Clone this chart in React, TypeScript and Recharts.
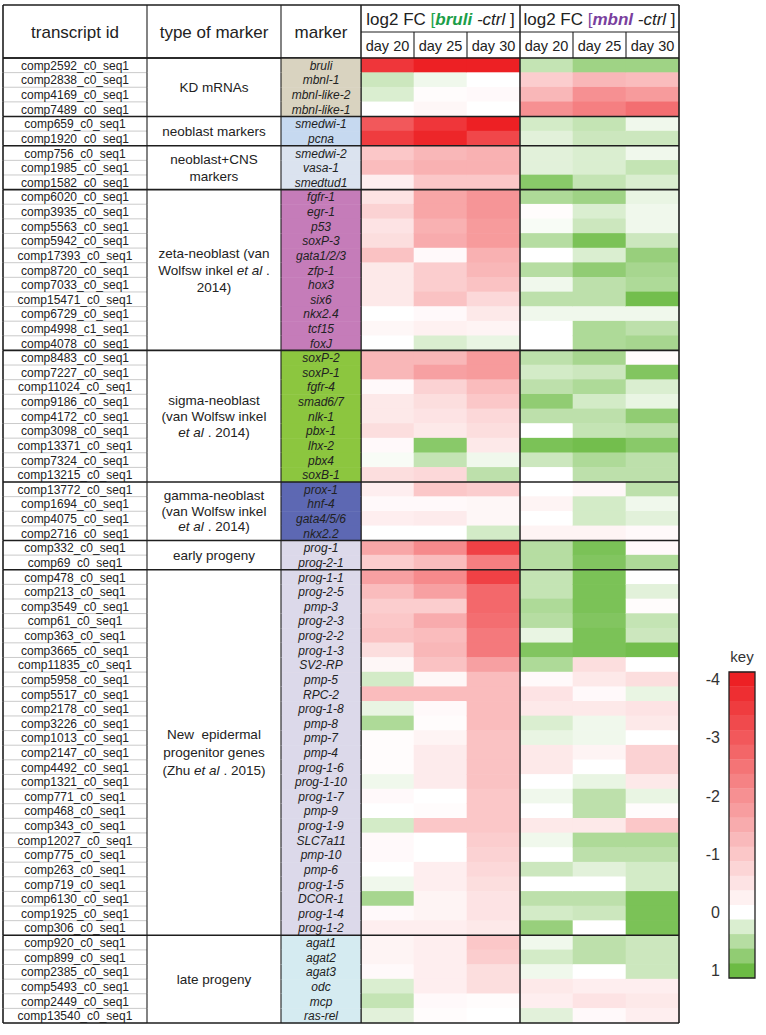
import React from 'react';
import { ScatterChart, Scatter, XAxis, YAxis, ReferenceLine, ReferenceArea } from 'recharts';

const transcriptIds = [
  'comp2592_c0_seq1', 'comp2838_c0_seq1', 'comp4169_c0_seq1', 'comp7489_c0_seq1',
  'comp659_c0_seq1', 'comp1920_c0_seq1',
  'comp756_c0_seq1', 'comp1985_c0_seq1', 'comp1582_c0_seq1',
  'comp6020_c0_seq1', 'comp3935_c0_seq1', 'comp5563_c0_seq1', 'comp5942_c0_seq1', 'comp17393_c0_seq1',
  'comp8720_c0_seq1', 'comp7033_c0_seq1', 'comp15471_c0_seq1', 'comp6729_c0_seq1', 'comp4998_c1_seq1',
  'comp4078_c0_seq1',
  'comp8483_c0_seq1', 'comp7227_c0_seq1', 'comp11024_c0_seq1', 'comp9186_c0_seq1', 'comp4172_c0_seq1',
  'comp3098_c0_seq1', 'comp13371_c0_seq1', 'comp7324_c0_seq1', 'comp13215_c0_seq1',
  'comp13772_c0_seq1', 'comp1694_c0_seq1', 'comp4075_c0_seq1', 'comp2716_c0_seq1',
  'comp332_c0_seq1', 'comp69_c0_seq1',
  'comp478_c0_seq1', 'comp213_c0_seq1', 'comp3549_c0_seq1', 'comp61_c0_seq1', 'comp363_c0_seq1',
  'comp3665_c0_seq1', 'comp11835_c0_seq1', 'comp5958_c0_seq1', 'comp5517_c0_seq1', 'comp2178_c0_seq1',
  'comp3226_c0_seq1', 'comp1013_c0_seq1', 'comp2147_c0_seq1', 'comp4492_c0_seq1', 'comp1321_c0_seq1',
  'comp771_c0_seq1', 'comp468_c0_seq1', 'comp343_c0_seq1', 'comp12027_c0_seq1', 'comp775_c0_seq1',
  'comp263_c0_seq1', 'comp719_c0_seq1', 'comp6130_c0_seq1', 'comp1925_c0_seq1', 'comp306_c0_seq1',
  'comp920_c0_seq1', 'comp899_c0_seq1', 'comp2385_c0_seq1', 'comp5493_c0_seq1', 'comp2449_c0_seq1',
  'comp13540_c0_seq1',
];

const markerNames = [
  'bruli', 'mbnl-1', 'mbnl-like-2', 'mbnl-like-1',
  'smedwi-1', 'pcna',
  'smedwi-2', 'vasa-1', 'smedtud1',
  'fgfr-1', 'egr-1', 'p53', 'soxP-3', 'gata1/2/3', 'zfp-1', 'hox3', 'six6', 'nkx2.4', 'tcf15', 'foxJ',
  'soxP-2', 'soxP-1', 'fgfr-4', 'smad6/7', 'nlk-1', 'pbx-1', 'lhx-2', 'pbx4', 'soxB-1',
  'prox-1', 'hnf-4', 'gata4/5/6', 'nkx2.2',
  'prog-1', 'prog-2-1',
  'prog-1-1', 'prog-2-5', 'pmp-3', 'prog-2-3', 'prog-2-2', 'prog-1-3', 'SV2-RP', 'pmp-5', 'RPC-2',
  'prog-1-8', 'pmp-8', 'pmp-7', 'pmp-4', 'prog-1-6', 'prog-1-10', 'prog-1-7', 'pmp-9', 'prog-1-9',
  'SLC7a11', 'pmp-10', 'pmp-6', 'prog-1-5', 'DCOR-1', 'prog-1-4', 'prog-1-2',
  'agat1', 'agat2', 'agat3', 'odc', 'mcp', 'ras-rel',
];

const groupSizes = [4, 2, 3, 11, 9, 4, 2, 25, 6];
const groupLabels = [
  ['KD mRNAs'],
  ['neoblast markers'],
  ['neoblast+CNS', 'markers'],
  ['zeta-neoblast (van', 'Wolfsw inkel *et al* .', '2014)'],
  ['sigma-neoblast', '(van Wolfsw inkel', '*et al* . 2014)'],
  ['gamma-neoblast', '(van Wolfsw inkel', '*et al* . 2014)'],
  ['early progeny'],
  ['New  epidermal', 'progenitor genes', '(Zhu *et al* . 2015)'],
  ['late progeny'],
];
const groupColors = ['#d9d3c0', '#c6d9f0', '#dbe3ef', '#c57cb9', '#8cc63f', '#5d68b3', '#dcd9ea', '#dcd9ea', '#d5ebf1'];
const groupLineGap = [17, 17, 17, 17, 16, 15.5, 17, 18, 17];

const dayLabels = ['day 20', 'day 25', 'day 30', 'day 20', 'day 25', 'day 30'];

const bruliDay20 = [-3.6, 0.35, 0.25, 0, -3.0, -3.5, -1.0, -1.2, -0.3, -0.5,
  -0.8, -0.5, -0.6, -1.1, -0.4, -0.4, -0.4, 0, -0.15, 0,
  -1.3, -1.3, -0.1, -0.4, -0.4, -0.6, -0.1, 0.05, -0.6, -0.3,
  -0.1, -0.3, 0, -1.6, -0.9, -1.7, -1.2, -0.9, -1.0, -1.1,
  -0.6, -0.15, 0.3, -1.2, 0.15, 0.55, -0.05, -0.05, -0.05, 0.1,
  -0.1, 0, 0.3, -0.1, -0.1, 0, 0.1, 0.6, -0.1, -0.3,
  -0.2, -0.2, -0.1, 0.25, 0.4, 0.2];
const bruliDay25 = [-4.0, 0.1, -0.05, -0.15, -3.6, -3.9, -1.3, -1.4, -1.0, -1.6,
  -1.6, -1.4, -1.5, -0.1, -0.9, -0.9, -1.1, -0.1, -0.25, 0.25,
  -1.3, -1.7, -0.8, -0.6, -0.5, -0.4, 0.8, 0.4, -0.7, -1.0,
  -0.1, -0.35, 0, -2.1, -1.2, -2.1, -1.7, -0.9, -1.5, -1.2,
  -1.3, -1.1, -0.15, -1.2, -0.1, -0.05, -0.2, -0.35, -0.35, -0.35,
  0, -0.05, -1.0, 0, 0, -0.3, -0.3, -0.2, -0.2, -0.3,
  -0.3, -0.3, -0.3, -0.3, -0.1, -0.05];
const bruliDay30 = [-4.0, 0, -0.1, 0, -4.0, -3.3, -1.4, -1.4, -1.0, -1.9,
  -1.9, -1.8, -1.8, -1.4, -1.3, -1.1, -0.7, -0.4, -0.2, 0.15,
  -1.8, -1.8, -1.2, -1.0, -0.7, -0.6, -0.4, 0.1, 0.45, -0.9,
  -0.15, -0.15, 0.3, -3.4, -2.3, -3.4, -2.7, -2.7, -2.6, -2.4,
  -2.4, -1.7, -1.2, -1.2, -1.2, -1.2, -1.1, -1.1, -1.1, -1.1,
  -1.0, -1.0, -1.0, -0.9, -0.8, -0.7, -0.6, -0.5, -0.5, -0.4,
  -1.0, -0.9, -0.6, -0.6, -0.05, 0];
const mbnlDay20 = [0.4, -0.9, -1.3, -2.0, 0.3, 0.2, 0.2, 0.2, 0.8, 0.55,
  -0.05, 0.05, 0.5, 0, 0.5, 0.1, 0.45, 0.1, 0, 0,
  0.45, 0.3, 0.45, 0.75, 0.45, 0, 0.9, 0.35, 0, 0,
  -0.2, 0, -0.2, 0.5, 0.5, 0.4, 0.4, 0.55, 0.5, 0.15,
  0.85, 0.55, -0.1, -0.5, -0.4, 0.25, 0.15, -0.4, -0.4, 0,
  0.1, 0, -0.4, 0.1, 0, 0.35, 0, 0.45, 0.3, 0.7,
  0.1, 0.3, 0.1, -0.4, -0.3, 0.2];
const mbnlDay25 = [0.65, -1.3, -2.0, -2.3, 0.4, 0.35, 0.25, 0.25, 0.4, 0.65,
  0.25, 0.35, 0.9, 0.25, 0.75, 0.45, 0.45, 0.1, 0.55, 0.55,
  0.6, 0.35, 0.55, 0.3, 0.45, 0.4, 0.95, 0.55, 0.45, -0.15,
  0.3, 0.3, -0.2, 0.9, 0.85, 0.9, 0.9, 0.9, 0.85, 0.9,
  0.9, -0.6, -0.4, -0.1, -0.4, 0.1, 0.1, -0.2, 0, 0.15,
  0.45, 0.45, -0.4, 0.55, 0.45, 0.2, 0, 0.45, 0.35, 0,
  0.45, 0.45, 0, -0.3, -0.5, -0.1];
const mbnlDay30 = [0.65, -1.2, -1.8, -2.6, 0.1, 0.35, 0.1, 0.4, 0.25, 0.15,
  0.1, 0.1, 0.35, 0.7, 0.6, 0.55, 0.95, 0.1, 0.45, 0.6,
  -0.05, 0.85, 0.25, 0.15, 0.75, 0.45, 0.8, 0.45, 0.45, 0.45,
  0.1, 0.2, -0.1, -0.1, 0.55, 0, 0.2, -0.05, 0.4, 0.35,
  0.95, 0, -0.6, 0.15, -0.5, -0.4, 0, -0.8, -0.8, -0.4,
  0.15, -0.05, -1.0, 0.55, 0.45, 0.3, 0.3, 0.9, 0.9, 0.9,
  0.35, 0.35, 0.35, -0.3, -0.4, -0.3];

const keySteps = [-4, -3.75, -3.5, -3.25, -3, -2.75, -2.5, -2.25, -2, -1.75, -1.5, -1.25, -1, -0.75, -0.5, -0.25, 0, 0.25, 0.5, 0.75, 1];
const keyTicks = [-4, -3, -2, -1, 0, 1];

// ---------- layout / style ----------
const FONT = '"Liberation Sans", Arial, Helvetica, sans-serif';
const X_LEFT = 3, X_TYPE = 147, X_MARK = 281, X_HEAT = 361, X_RIGHT = 679;
const Y_TOP = 5, Y_MID = 32, Y_HEAD = 58, Y_BOTTOM = 1023;
const CW = (X_RIGHT - X_HEAT) / dayLabels.length;
const CH = (Y_BOTTOM - Y_HEAD) / transcriptIds.length;
const LINE = '#1e1e1e';
const KEY_W = 26;
const KEY_H = 306 / keySteps.length;

function heat(v: number): string {
  let r, g, b;
  if (v < 0) {
    const t = Math.min(1, -v / 4);
    r = 255 + (237 - 255) * t; g = 255 + (32 - 255) * t; b = 255 + (36 - 255) * t;
  } else {
    const t = Math.min(1, v);
    r = 255 + (108 - 255) * t; g = 255 + (187 - 255) * t; b = 255 + (68 - 255) * t;
  }
  return `rgb(${Math.round(r)},${Math.round(g)},${Math.round(b)})`;
}

const heatColumns = [bruliDay20, bruliDay25, bruliDay30, mbnlDay20, mbnlDay25, mbnlDay30];
const cells = heatColumns.flatMap((col, c) => col.map((v, r) => ({ x: c + 0.5, y: r + 0.5, v })));
const keyData = keySteps.map((v) => ({ x: 0.5, y: v, v }));
const rowTicks = transcriptIds.map((_, r) => r + 0.5);
const colTicks = dayLabels.map((_, c) => c + 0.5);
const groupStarts: number[] = [];
groupSizes.forEach((n, i) => groupStarts.push(i === 0 ? 0 : groupStarts[i - 1] + groupSizes[i - 1]));
const rowGroup = transcriptIds.map((_, r) => {
  let g = 0;
  while (g + 1 < groupStarts.length && groupStarts[g + 1] <= r) g++;
  return g;
});
const boundaries = groupStarts.slice(1);

function rich(line: string) {
  return line.split('*').map((s, i) => (
    <tspan key={i} fontStyle={i % 2 ? 'italic' : 'normal'}>{s}</tspan>
  ));
}

function HeatCell(props: any) {
  const { cx, cy, payload } = props;
  if (cx == null || cy == null) return null;
  return <rect x={cx - CW / 2 - 0.3} y={cy - CH / 2 - 0.3} width={CW + 0.6} height={CH + 0.6} fill={heat(payload.v)} />;
}

function KeyCell(props: any) {
  const { cx, cy, payload } = props;
  if (cx == null || cy == null) return null;
  return <rect x={cx - KEY_W / 2} y={cy - KEY_H / 2 - 0.2} width={KEY_W} height={KEY_H + 0.4} fill={heat(payload.v)} />;
}

function RowTick(props: any) {
  const { y, payload } = props;
  const r = Math.floor(payload.value);
  const g = rowGroup[r];
  const top = y - CH / 2;
  const bot = y + CH / 2;
  const first = groupStarts[g] === r;
  const lines = groupLabels[g];
  const gap = groupLineGap[g];
  const gCenter = top + (groupSizes[g] * CH) / 2;
  return (
    <g>
      <rect x={X_MARK} y={top} width={X_HEAT - X_MARK} height={CH + 0.5} fill={groupColors[g]} />
      <line x1={X_LEFT} x2={X_TYPE} y1={bot} y2={bot} stroke="#c4c4c4" strokeWidth={0.9} />
      <text x={(X_LEFT + X_TYPE) / 2} y={y + 0.5} textAnchor="middle" dominantBaseline="central"
        fontSize={12} fill="#222" fontFamily={FONT}>{transcriptIds[r]}</text>
      <text x={(X_MARK + X_HEAT) / 2} y={y + 0.5} textAnchor="middle" dominantBaseline="central"
        fontSize={12} fontStyle="italic" fill="#222" fontFamily={FONT}>{markerNames[r]}</text>
      {[X_LEFT, X_TYPE, X_MARK, X_HEAT].map((xx) => (
        <line key={xx} x1={xx} x2={xx} y1={top} y2={bot} stroke={LINE} strokeWidth={xx === X_LEFT ? 1.6 : 1.1} />
      ))}
      {first && (
        <g>
          <line x1={X_LEFT} x2={X_HEAT} y1={top} y2={top} stroke={LINE} strokeWidth={1.6} />
          <text x={(X_TYPE + X_MARK) / 2} textAnchor="middle" fontSize={13.5} fill="#222" fontFamily={FONT} style={{ whiteSpace: 'pre' }}>
            {lines.map((ln, i) => (
              <tspan key={i} x={(X_TYPE + X_MARK) / 2} y={gCenter + (i - (lines.length - 1) / 2) * gap} dominantBaseline="central">
                {rich(ln)}
              </tspan>
            ))}
          </text>
        </g>
      )}
      {r === transcriptIds.length - 1 && (
        <line x1={X_LEFT} x2={X_HEAT} y1={bot} y2={bot} stroke={LINE} strokeWidth={1.6} />
      )}
    </g>
  );
}

function HeadTick(props: any) {
  const { x, payload } = props;
  const c = Math.floor(payload.value);
  const left = x - CW / 2;
  const ty = (Y_TOP + Y_MID) / 2 + 0.5;
  return (
    <g fontFamily={FONT}>
      <text x={x} y={(Y_MID + Y_HEAD) / 2 + 0.5} textAnchor="middle" dominantBaseline="central" fontSize={14.5} fill="#222">
        {dayLabels[c]}
      </text>
      <line x1={left} x2={left} y1={c % 3 === 0 ? Y_TOP : Y_MID} y2={Y_HEAD} stroke={LINE} strokeWidth={c % 3 === 0 ? 1.5 : 1.1} />
      {c === 0 && (
        <g>
          <line x1={X_LEFT} x2={X_RIGHT} y1={Y_TOP} y2={Y_TOP} stroke={LINE} strokeWidth={1.6} />
          <line x1={X_HEAT} x2={X_RIGHT} y1={Y_MID} y2={Y_MID} stroke={LINE} strokeWidth={1.1} />
          <line x1={X_LEFT} x2={X_RIGHT} y1={Y_HEAD} y2={Y_HEAD} stroke={LINE} strokeWidth={1.6} />
          {[X_LEFT, X_TYPE, X_MARK, X_RIGHT].map((xx) => (
            <line key={xx} x1={xx} x2={xx} y1={Y_TOP} y2={Y_HEAD} stroke={LINE} strokeWidth={xx === X_LEFT || xx === X_RIGHT ? 1.6 : 1.1} />
          ))}
          <text x={(X_LEFT + X_TYPE) / 2} y={(Y_TOP + Y_HEAD) / 2 + 1} textAnchor="middle" dominantBaseline="central" fontSize={17} fill="#222">transcript id</text>
          <text x={(X_TYPE + X_MARK) / 2} y={(Y_TOP + Y_HEAD) / 2 + 1} textAnchor="middle" dominantBaseline="central" fontSize={17} fill="#222">type of marker</text>
          <text x={(X_MARK + X_HEAT) / 2} y={(Y_TOP + Y_HEAD) / 2 + 1} textAnchor="middle" dominantBaseline="central" fontSize={17} fill="#222">marker</text>
        </g>
      )}
      {c === 1 && (
        <text x={x} y={ty} textAnchor="middle" dominantBaseline="central" fontSize={17} fill="#222" style={{ whiteSpace: 'pre' }}>
          <tspan>log2 FC </tspan>
          <tspan fill="#22a34c">[</tspan>
          <tspan fill="#1c9e48" fontWeight="bold" fontStyle="italic">bruli</tspan>
          <tspan fontStyle="italic"> -ctrl</tspan>
          <tspan> ]</tspan>
        </text>
      )}
      {c === 4 && (
        <text x={x} y={ty} textAnchor="middle" dominantBaseline="central" fontSize={17} fill="#222" style={{ whiteSpace: 'pre' }}>
          <tspan>log2 FC </tspan>
          <tspan fill="#7a44a0">[</tspan>
          <tspan fill="#7a3f9e" fontWeight="bold" fontStyle="italic">mbnl</tspan>
          <tspan fontStyle="italic"> -ctrl</tspan>
          <tspan> ]</tspan>
        </text>
      )}
    </g>
  );
}

export default function App() {
  return (
    <div style={{ position: 'absolute', left: 0, top: 0, width: 766, height: 1035, background: '#fff', fontFamily: FONT }}>
      <div style={{ position: 'absolute', left: 0, top: 0 }}>
        <ScatterChart width={766} height={1035} margin={{ top: Y_TOP, right: 766 - X_RIGHT, bottom: 1035 - Y_BOTTOM, left: X_LEFT }}>
          <XAxis type="number" dataKey="x" orientation="top" domain={[0, 6]} ticks={colTicks} interval={0}
            height={Y_HEAD - Y_TOP} axisLine={false} tickLine={false} tick={<HeadTick />} />
          <YAxis type="number" dataKey="y" domain={[0, transcriptIds.length]} reversed ticks={rowTicks} interval={0}
            width={X_HEAT - X_LEFT} axisLine={false} tickLine={false} tick={<RowTick />} />
          <Scatter data={cells} isAnimationActive={false} shape={HeatCell} />
          {boundaries.map((b) => (
            <ReferenceLine key={'h' + b} y={b} stroke={LINE} strokeWidth={1.6} zIndex={1000} />
          ))}
          <ReferenceLine y={transcriptIds.length} stroke={LINE} strokeWidth={1.6} zIndex={1000} />
          <ReferenceLine x={0} stroke={LINE} strokeWidth={1.1} zIndex={1000} />
          <ReferenceLine x={3} stroke={LINE} strokeWidth={1.5} zIndex={1000} />
          <ReferenceLine x={6} stroke={LINE} strokeWidth={1.6} zIndex={1000} />
        </ScatterChart>
      </div>
      <div style={{ position: 'absolute', left: 722, top: 649, width: 40, textAlign: 'center', fontSize: 15, lineHeight: '16px', color: '#333' }}>key</div>
      <div style={{ position: 'absolute', left: 690, top: 640 }}>
        <ScatterChart width={76} height={350} margin={{ top: 32, right: 11, bottom: 12, left: 0 }}>
          <XAxis type="number" dataKey="x" domain={[0, 1]} hide />
          <YAxis type="number" dataKey="y" domain={[-4.125, 1.125]} reversed ticks={keyTicks} interval={0} width={39}
            tickLine={false} axisLine={false} tickSize={0} tickMargin={9}
            tick={{ fontSize: 16, fill: '#333', fontFamily: FONT }} />
          <Scatter data={keyData} isAnimationActive={false} shape={KeyCell} />
          <ReferenceArea x1={0} x2={1} y1={-4.125} y2={1.125} fill="none" stroke="#222" strokeWidth={1.3} zIndex={1000} />
        </ScatterChart>
      </div>
    </div>
  );
}
